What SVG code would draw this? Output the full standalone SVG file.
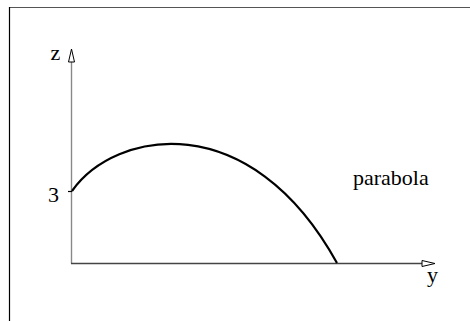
<svg xmlns="http://www.w3.org/2000/svg" width="470" height="321" viewBox="0 0 470 321">
<style>
.t{font-family:"Liberation Serif","Times New Roman",serif;font-size:22px;fill:#000}
.ax{fill:none;stroke-width:1.4}
.ah{fill:#fff;stroke:#000;stroke-width:1}
</style>
<rect width="470" height="321" fill="#fff"/>
<g id="frame">
<line x1="9.5" y1="7.5" x2="470" y2="7.5" stroke="#555" stroke-width="1.2"/>
<line x1="9.5" y1="7" x2="9.5" y2="321" stroke="#000" stroke-width="1.2"/>
</g>
<g id="connectors">
<line class="ax" x1="71.5" y1="263.5" x2="71.5" y2="61" stroke="#888"/>
<polygon class="ah" points="71.5,49 68.5,62 74.5,62"/>
<line class="ax" x1="71" y1="263.5" x2="423" y2="263.5" stroke="#444"/>
<polygon class="ah" points="435,263.5 422,260.5 422,266.5"/>
<line x1="68" y1="191.5" x2="72" y2="191.5" stroke="#000" stroke-width="1.2"/>
<path id="parabola-curve" d="M72,191 C115,130 250,105 337,263" fill="none" stroke="#000" stroke-width="2.2"/>
</g>
<g id="labels">
<text class="t" x="50.5" y="60">z</text>
<text class="t" x="48" y="201.5">3</text>
<text class="t" x="427" y="282">y</text>
<text class="t" x="353" y="185">parabola</text>
</g>
</svg>
